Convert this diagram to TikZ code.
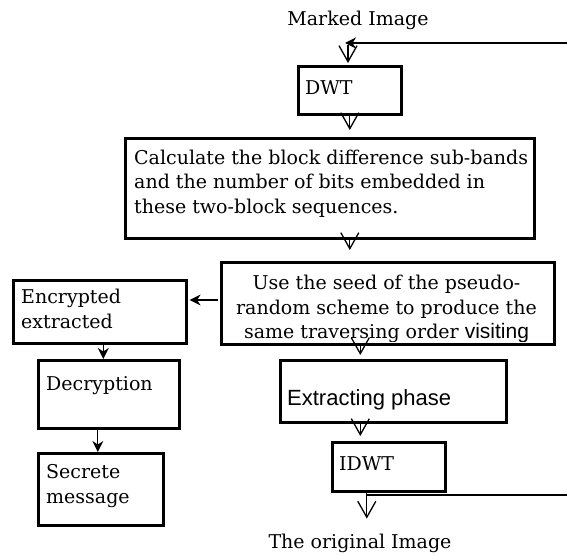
\documentclass[tikz,border=0pt]{standalone}
\usepackage{fontspec}
\setmainfont{DejaVu Serif}
\newfontfamily\arialfont{Liberation Sans}
\usetikzlibrary{arrows.meta,calc}

% multi-line labels are placed by the baseline of their last line
\tikzset{
  stepbox/.style={draw, line width=2.6pt, anchor=north west, inner sep=0pt},
  label/.style={font=\fontsize{19}{24.5}\selectfont, inner sep=0pt, align=left, anchor=base west},
  conn/.style={line width=1.3pt},
  vhead/.style={conn, -{Straight Barb[length=16pt,width=18pt,line width=1.3pt]}},
  shead/.style={conn, -{Stealth[length=11pt,width=11pt,inset=3.5pt]}},
}

\begin{document}
\begin{tikzpicture}[x=1pt,y=-1pt]
\useasboundingbox (0,0) rectangle (567,556);

% titles
\node[label, anchor=base] (top) at (358,26) {Marked Image};
\node[label, anchor=base] (bottom) at (360,548) {The original Image};

% boxes
\node[stepbox, minimum width=103pt, minimum height=48pt] (dwt) at (297,65) {};
\node[label] (dwtt) at (305,95) {DWT};

\node[stepbox, minimum width=409pt, minimum height=100pt] (calc) at (124,137) {};
\node[label] (calct) at (134,213) {Calculate the block difference sub-bands\\and the number of bits embedded in\\these two-block sequences.};

\node[stepbox, minimum width=333pt, minimum height=82pt] (seed) at (220,261) {};
\begin{scope}
  \clip (221.3,262.3) rectangle (551.7,341.7);
  \node[label, align=center, anchor=base] (seedt) at (386.5,338.5) {Use the seed of the pseudo-\\random scheme to produce the\\same traversing order {\arialfont\fontsize{21}{24.5}\selectfont visiting}};
\end{scope}

\node[stepbox, minimum width=173pt, minimum height=63pt] (enc) at (12,279) {};
\node[label] (enct) at (21,328) {Encrypted\\extracted};

\node[stepbox, minimum width=141pt, minimum height=68pt] (dec) at (37,359) {};
\node[label] (dect) at (46,390) {Decryption};

\node[stepbox, minimum width=125pt, minimum height=72pt] (sec) at (37,452) {};
\node[label] (sect) at (46,503) {Secrete\\message};

\node[stepbox, minimum width=226pt, minimum height=62pt] (ext) at (279,359) {};
\node[label, font=\arialfont\fontsize{22}{26}\selectfont] (extt) at (287,405) {Extracting phase};

\node[stepbox, minimum width=113pt, minimum height=49pt] (idwt) at (331,441) {};
\node[label] (idwtt) at (339,470) {IDWT};

% feedback lines at the right edge
\coordinate (fbin) at (567,43);
\coordinate (fbturn) at (345,43);
\coordinate (fbout) at (567,495);
\coordinate (fbstart) at (366,495);
\coordinate (vin) at (348,45);

% connectors
\draw[shead] (fbin) -- (fbturn);
\draw[vhead, shorten >=2pt] (vin) -- (vin |- dwt.north);
\draw[vhead, shorten >=7pt] (dwt.south) -- (dwt.south |- calc.north);
\draw[vhead, shorten >=11pt] (calc.south -| dwt.south) -- (dwt.south |- seed.north);
\draw[shead, shorten <=2pt, shorten >=2pt] ([yshift=-39pt]seed.north west) -- ([yshift=-39pt]seed.north west -| enc.east);
\draw[vhead, shorten >=4pt] ([xshift=-27.5pt]seed.south) -- ([xshift=-27.5pt]seed.south |- ext.north);
\draw[vhead, shorten >=5pt] ([xshift=-33pt]ext.south) -- ([xshift=-33pt]ext.south |- idwt.north);
\draw[vhead] ([xshift=-22pt]idwt.south) -- ++(0,26);
\draw[conn] (fbstart) -- (fbout);
\draw[shead] ([xshift=3.5pt]enc.south) -- ([xshift=3.5pt]enc.south |- dec.north);
\draw[shead] ([xshift=-11pt]dec.south) -- ([xshift=-11pt]dec.south |- sec.north);
\end{tikzpicture}
\end{document}
